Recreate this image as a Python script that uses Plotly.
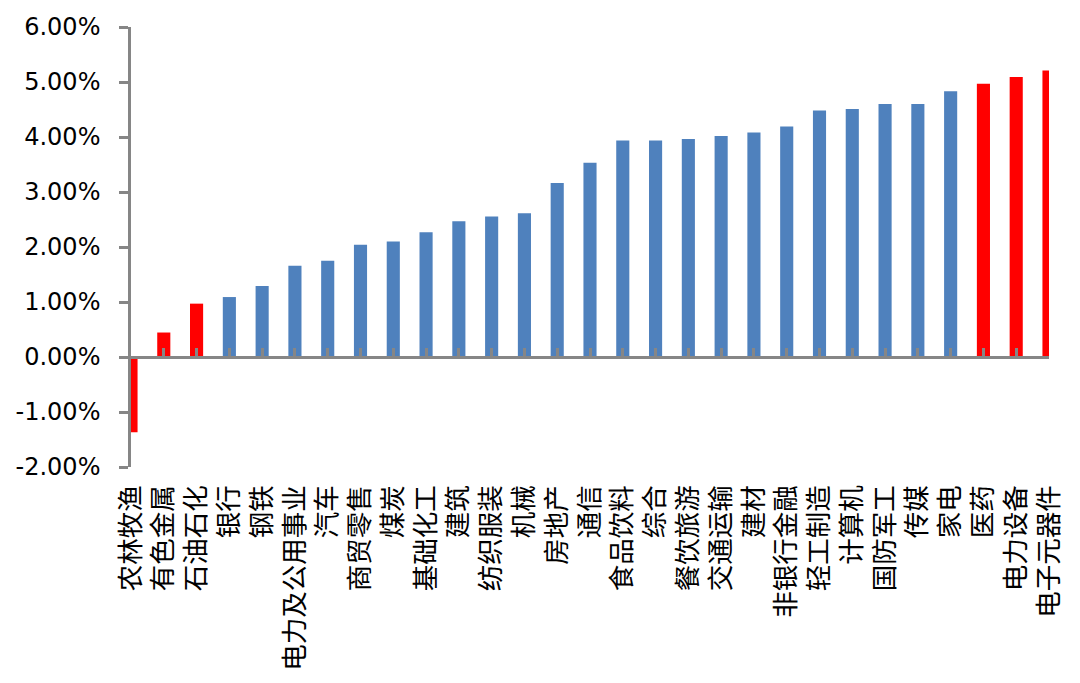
import plotly.graph_objects as go

categories = ["农林牧渔", "有色金属", "石油石化", "银行", "钢铁", "电力及公用事业", "汽车",
              "商贸零售", "煤炭", "基础化工", "建筑", "纺织服装", "机械", "房地产", "通信",
              "食品饮料", "综合", "餐饮旅游", "交通运输", "建材", "非银行金融", "轻工制造",
              "计算机", "国防军工", "传媒", "家电", "医药", "电力设备", "电子元器件"]
values = [-1.37, 0.445, 0.97, 1.09, 1.29, 1.66, 1.75, 2.04, 2.10, 2.27, 2.47, 2.555, 2.615,
          3.165, 3.53, 3.935, 3.935, 3.965, 4.02, 4.08, 4.19, 4.48, 4.51, 4.60, 4.60, 4.83,
          4.97, 5.09, 5.21]
highlight = ["农林牧渔", "有色金属", "石油石化", "医药", "电力设备", "电子元器件"]
y_ticks = [-2, -1, 0, 1, 2, 3, 4, 5, 6]

BLUE = "#4F81BD"
RED = "#FF0000"
GREY = "#868686"

colors = [RED if c in highlight else BLUE for c in categories]

fig = go.Figure()
fig.add_trace(go.Bar(x=categories, y=values, marker=dict(color=colors, line=dict(width=0)),
                     width=0.4, showlegend=False, hoverinfo="x+y"))
# invisible helper trace for the zero-line axis with category tick marks
fig.add_trace(go.Scatter(x=list(range(len(categories))), y=[0] * len(categories),
                         xaxis="x2", mode="lines", line=dict(width=0, color="rgba(0,0,0,0)"),
                         showlegend=False, hoverinfo="skip"))

ymin, ymax = y_ticks[0], y_ticks[-1]
zero_pos = (0 - ymin) / (ymax - ymin)

fig.update_layout(
    width=1072, height=675,
    margin=dict(l=123, r=31, t=19, b=216, autoexpand=False),
    paper_bgcolor="white", plot_bgcolor="white",
    bargap=0.6,
    xaxis=dict(type="category", range=[0, len(categories) - 1], showline=False,
               ticks="", showgrid=False, zeroline=False, tickangle=-90,
               tickfont=dict(family="Noto Sans CJK SC", size=26.5, color="black"),
               ticklabelstandoff=12, automargin=False),
    xaxis2=dict(overlaying="x", anchor="free", position=zero_pos, type="linear",
                range=[0, len(categories) - 1], tick0=0, dtick=1,
                showline=True, linecolor=GREY, linewidth=2.5,
                ticks="inside", ticklen=8, tickwidth=2.5, tickcolor=GREY,
                showticklabels=False, showgrid=False, zeroline=False,
                layer="above traces", automargin=False),
    yaxis=dict(range=[ymin, ymax], tickvals=y_ticks,
               ticktext=[f"{v:.2f}%" for v in y_ticks],
               showline=True, linecolor=GREY, linewidth=2.5,
               ticks="outside", ticklen=9, tickwidth=2.5, tickcolor=GREY,
               showgrid=False, zeroline=False,
               tickfont=dict(family="DejaVu Sans", size=24, color="black"),
               ticklabelstandoff=14, automargin=False),
)

fig.write_html("out.html")
